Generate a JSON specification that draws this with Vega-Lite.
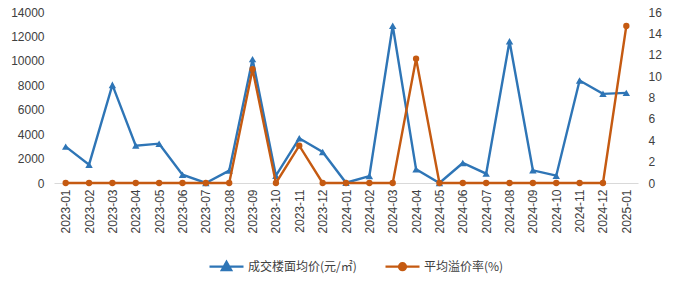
{
  "$schema": "https://vega.github.io/schema/vega-lite/v6.json",
  "width": 584,
  "height": 171,
  "autosize": {"type": "none"},
  "padding": {"left": 54, "top": 12, "right": 38, "bottom": 100},
  "background": "white",
  "config": {
    "view": {"stroke": null},
    "font": "Noto Sans CJK SC",
    "axis": {"labelFont": "Liberation Sans", "labelFontSize": 12, "labelColor": "#404040", "ticks": false, "grid": false, "title": null, "labelOverlap": false},
    "axisY": {"labelOverlap": false},
    "axisQuantitative": {"labelOverlap": false}
  },
  "data": {
    "values": [
      {"month": "2023-01", "price": 2980, "rate": 0},
      {"month": "2023-02", "price": 1500, "rate": 0},
      {"month": "2023-03", "price": 8030, "rate": 0},
      {"month": "2023-04", "price": 3060, "rate": 0},
      {"month": "2023-05", "price": 3220, "rate": 0},
      {"month": "2023-06", "price": 680, "rate": 0},
      {"month": "2023-07", "price": 0, "rate": 0},
      {"month": "2023-08", "price": 1010, "rate": 0},
      {"month": "2023-09", "price": 10140, "rate": 10.64},
      {"month": "2023-10", "price": 600, "rate": 0},
      {"month": "2023-11", "price": 3660, "rate": 3.49},
      {"month": "2023-12", "price": 2540, "rate": 0},
      {"month": "2024-01", "price": 20, "rate": 0},
      {"month": "2024-02", "price": 570, "rate": 0},
      {"month": "2024-03", "price": 12870, "rate": 0},
      {"month": "2024-04", "price": 1120, "rate": 11.63},
      {"month": "2024-05", "price": 0, "rate": 0},
      {"month": "2024-06", "price": 1640, "rate": 0},
      {"month": "2024-07", "price": 765, "rate": 0},
      {"month": "2024-08", "price": 11610, "rate": 0},
      {"month": "2024-09", "price": 1040, "rate": 0},
      {"month": "2024-10", "price": 600, "rate": 0},
      {"month": "2024-11", "price": 8390, "rate": 0},
      {"month": "2024-12", "price": 7300, "rate": 0},
      {"month": "2025-01", "price": 7380, "rate": 14.69}
    ]
  },
  "encoding": {
    "x": {
      "field": "month", "type": "ordinal", "sort": null,
      "scale": {"type": "point", "padding": 0.5},
      "axis": {"labelAngle": -90, "labelPadding": 6, "domainColor": "#d9d9d9", "domainWidth": 1, "labelOverlap": false}
    },
    "color": {
      "scale": {"domain": ["成交楼面均价(元/㎡)", "平均溢价率(%)"], "range": ["#2E75B6", "#C55A11"]},
      "legend": {
        "title": null, "orient": "none", "direction": "horizontal",
        "legendX": 154, "legendY": 236,
        "labelFontSize": 12, "labelColor": "#404040", "labelFont": "Noto Sans CJK SC",
        "symbolSize": 1156, "symbolStrokeWidth": 2.4, "columnPadding": 23, "labelOffset": 3,
        "encode": {"symbols": {"update": {
          "shape": [
            {"test": "datum.value === '成交楼面均价(元/㎡)'", "value": "M-1,0H1M-0.27,0.2L0,-0.28L0.27,0.2Z"},
            {"value": "M-1,0H1M0.2,0A0.2,0.2,0,1,1,-0.2,0A0.2,0.2,0,1,1,0.2,0Z"}
          ],
          "stroke": {"scale": "color", "field": "value"},
          "fill": {"scale": "color", "field": "value"},
          "opacity": {"value": 1}
        }}}
      }
    }
  },
  "layer": [
    {
      "encoding": {
        "y": {"field": "price", "type": "quantitative", "scale": {"domain": [0, 14000]}, "axis": {"values": [0,2000,4000,6000,8000,10000,12000,14000], "domain": false, "labelPadding": 10, "format": "d", "labelOverlap": false}},
        "color": {"datum": "成交楼面均价(元/㎡)"}
      },
      "layer": [
        {"mark": {"type": "line", "strokeWidth": 2.4}},
        {"mark": {"type": "point", "filled": true, "opacity": 1, "size": 55, "shape": "triangle-up"}}
      ]
    },
    {
      "encoding": {
        "y": {"field": "rate", "type": "quantitative", "scale": {"domain": [0, 16]}, "axis": {"orient": "right", "values": [0,2,4,6,8,10,12,14,16], "domain": false, "labelPadding": 10, "labelOverlap": false}},
        "color": {"datum": "平均溢价率(%)"}
      },
      "layer": [
        {"mark": {"type": "line", "strokeWidth": 2.4}},
        {"mark": {"type": "point", "filled": true, "opacity": 1, "size": 40, "shape": "circle"}}
      ]
    }
  ],
  "resolve": {"scale": {"y": "independent"}}
}
